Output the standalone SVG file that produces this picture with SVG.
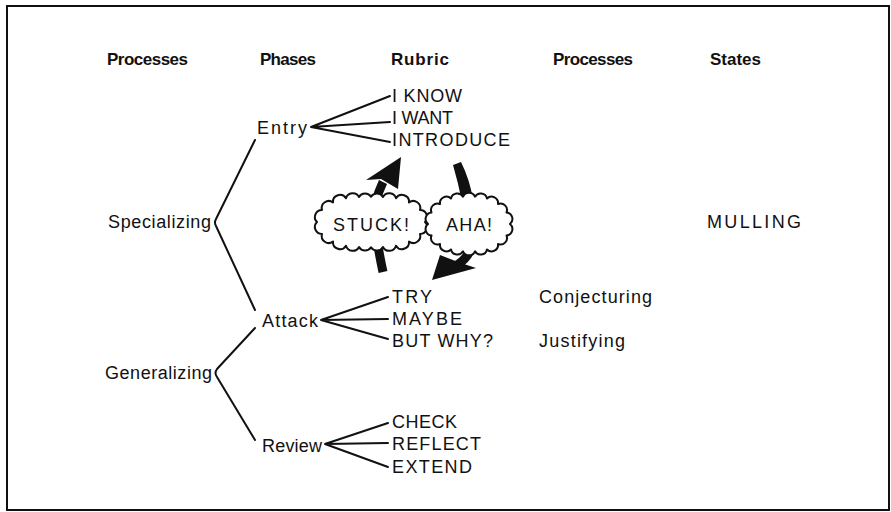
<svg xmlns="http://www.w3.org/2000/svg" width="891" height="512" viewBox="0 0 891 512">
<style>
.h{font-family:"Liberation Sans",Arial,sans-serif;font-weight:bold;font-size:17px;fill:#111}
.t{font-family:"Liberation Sans",Arial,sans-serif;font-size:18px;fill:#111}
.ln{fill:none;stroke:#111;stroke-width:2;stroke-linecap:round;stroke-linejoin:round}
.cloud{fill:#fff;stroke:#111;stroke-width:2;stroke-linejoin:round}
.shaft{fill:none;stroke:#111;stroke-width:9}
.head{fill:#111}
</style>
<rect x="0" y="0" width="891" height="512" fill="#fff"/>
<rect x="7" y="6" width="882" height="504" fill="none" stroke="#111" stroke-width="2"/>

<g id="headers">
<text class="h" x="107" y="65" textLength="81" lengthAdjust="spacing">Processes</text>
<text class="h" x="260" y="65" textLength="56" lengthAdjust="spacing">Phases</text>
<text class="h" x="391" y="65" textLength="58" lengthAdjust="spacing">Rubric</text>
<text class="h" x="553" y="65" textLength="80" lengthAdjust="spacing">Processes</text>
<text class="h" x="710" y="65" textLength="51" lengthAdjust="spacing">States</text>
</g>

<g id="connectors">
<path class="ln" d="M255,140 L216,219 Q214,222.5 216,226 L255,310"/>
<path class="ln" d="M255,328 L217,369 Q214,373 217,377 L255,440"/>
<path class="ln" d="M311,127 L390,96 M311,127 L390,122 M311,127 L390,142"/>
<path class="ln" d="M321,320 L388,297 M321,320 L388,319 M321,320 L388,339"/>
<path class="ln" d="M325,444 L388,423 M325,444 L388,443 M325,444 L388,467"/>
<g id="arrow-stuck">
<path class="shaft" d="M383,272 Q380,258 378,246"/>
<path class="shaft" d="M376,203 Q378,192 383,182"/>
<polygon class="head" points="401,157 366,180 381,179 398,189"/>
</g>
<g id="arrow-aha">
<path class="head" d="M453,165 L461,162 Q470,180 473,200 L462,202 Q458,182 453,165 Z"/>
<path class="shaft" d="M471,248 Q468,258 457,265"/>
<polygon class="head" points="432,280 440,255 458,262 476,268"/>
</g>
</g>

<g id="stuck">
<path class="cloud" d="M425,222 A7,7 0 0 1 420,234 A7,7 0 0 1 409,241.5 A7,7 0 0 1 396,245.7 A7,7 0 0 1 383,247 A7,7 0 0 1 371,247.3 A7,7 0 0 1 359,247 A7,7 0 0 1 346,245.7 A7,7 0 0 1 333,241.5 A7,7 0 0 1 322,234 A7,7 0 0 1 317,222 A7,7 0 0 1 322,210 A7,7 0 0 1 333,202.5 A7,7 0 0 1 346,198.3 A7,7 0 0 1 359,197 A7,7 0 0 1 371,196.7 A7,7 0 0 1 383,197 A7,7 0 0 1 396,198.3 A7,7 0 0 1 409,202.5 A7,7 0 0 1 420,210 A7,7 0 0 1 425,222 Z"/>
<text class="t" x="371" y="231" text-anchor="middle" textLength="76" lengthAdjust="spacing">STUCK!</text>
</g>
<g id="aha">
<path class="cloud" d="M510,224 A6.5,6.5 0 0 1 506.5,235.5 A6.5,6.5 0 0 1 498,244 A6.5,6.5 0 0 1 487,249.5 A6.5,6.5 0 0 1 475,251.3 A6.5,6.5 0 0 1 463,251.3 A6.5,6.5 0 0 1 451,249.5 A6.5,6.5 0 0 1 440,244 A6.5,6.5 0 0 1 431.5,235.5 A6.5,6.5 0 0 1 428,224 A6.5,6.5 0 0 1 431.5,212.5 A6.5,6.5 0 0 1 440,204 A6.5,6.5 0 0 1 451,198.5 A6.5,6.5 0 0 1 463,196.7 A6.5,6.5 0 0 1 475,196.7 A6.5,6.5 0 0 1 487,198.5 A6.5,6.5 0 0 1 498,204 A6.5,6.5 0 0 1 506.5,212.5 A6.5,6.5 0 0 1 510,224 Z"/>
<text class="t" x="469" y="231" text-anchor="middle" textLength="46" lengthAdjust="spacing">AHA!</text>
</g>

<g id="specializing"><text class="t" x="108" y="228" textLength="103" lengthAdjust="spacing">Specializing</text></g>
<g id="generalizing"><text class="t" x="105" y="379" textLength="107" lengthAdjust="spacing">Generalizing</text></g>
<g id="entry"><text class="t" x="257" y="134" textLength="50" lengthAdjust="spacing">Entry</text></g>
<g id="attack"><text class="t" x="262" y="327" textLength="56" lengthAdjust="spacing">Attack</text></g>
<g id="review"><text class="t" x="262" y="452" textLength="60" lengthAdjust="spacing">Review</text></g>

<g id="i-know"><text class="t" x="392" y="102" textLength="70" lengthAdjust="spacing">I KNOW</text></g>
<g id="i-want"><text class="t" x="392" y="124" textLength="61" lengthAdjust="spacing">I WANT</text></g>
<g id="introduce"><text class="t" x="392" y="146" textLength="118" lengthAdjust="spacing">INTRODUCE</text></g>
<g id="try"><text class="t" x="392" y="303" textLength="40" lengthAdjust="spacing">TRY</text></g>
<g id="maybe"><text class="t" x="392" y="325" textLength="70" lengthAdjust="spacing">MAYBE</text></g>
<g id="but-why"><text class="t" x="392" y="347" textLength="101" lengthAdjust="spacing">BUT WHY?</text></g>
<g id="check"><text class="t" x="392" y="428" textLength="65" lengthAdjust="spacing">CHECK</text></g>
<g id="reflect"><text class="t" x="392" y="450" textLength="89" lengthAdjust="spacing">REFLECT</text></g>
<g id="extend"><text class="t" x="392" y="473" textLength="80" lengthAdjust="spacing">EXTEND</text></g>

<g id="conjecturing"><text class="t" x="539" y="303" textLength="113" lengthAdjust="spacing">Conjecturing</text></g>
<g id="justifying"><text class="t" x="539" y="347" textLength="86" lengthAdjust="spacing">Justifying</text></g>
<g id="mulling"><text class="t" x="707" y="228" textLength="94" lengthAdjust="spacing">MULLING</text></g>
</svg>
